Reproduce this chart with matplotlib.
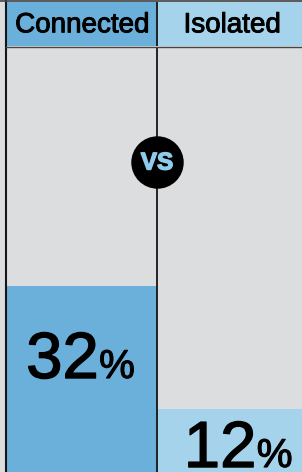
import matplotlib
matplotlib.use("Agg")
import matplotlib.pyplot as plt
import matplotlib.patheffects as pe
from matplotlib.lines import Line2D

# data
groups = ["Connected", "Isolated"]
values = [32, 12]
bar_colors = ["#6ab0db", "#a6d3ec"]

W, H = 302, 472
bg = "#dcdddf"
dark = "#151515"
font = "Liberation Sans"


def thick(color, w):
    # fake a medium weight
    return [pe.withStroke(linewidth=w, foreground=color)]


fig = plt.figure(figsize=(W / 100, H / 100), dpi=100)
fig.patch.set_facecolor(bg)

# main panel (bottom part)
x0, top = 7, 47
ax = fig.add_axes([x0 / W, 0, (W - x0) / W, (H - top) / H])
ax.set_facecolor(bg)
xs = list(range(len(groups)))
ax.bar(xs, values, width=1.0, color=bar_colors, linewidth=0)
ax.set_xlim(-0.5, -0.5 + (W - x0) / 150)
ax.set_ylim(1.76, 70.86)
ax.axis("off")

# divider line
ax.axvline(0.5, color=dark, lw=1.3)

# value labels: big number + smaller percent sign
label_offsets = [-92, -58]  # px below bar top to baseline
for x, v, off in zip(xs, values, label_offsets):
    dx = 12 if v > 20 else 17.5
    ax.annotate(str(v), (x, v), xytext=(dx, off * 0.72),
                textcoords="offset points", ha="right", va="baseline",
                fontsize=47, family=font, color="black",
                path_effects=thick("black", 1.0))
    ax.annotate("%", (x, v), xytext=(dx + 0.3, off * 0.72),
                textcoords="offset points", ha="left", va="baseline",
                fontsize=29, family=font, color="black",
                path_effects=thick("black", 0.8))

# vs badge
ax.scatter([0.5], [0.729], s=1350, color="black", zorder=5,
           transform=ax.get_xaxis_transform(), clip_on=False)
ax.text(0.5, 0.727, "VS", transform=ax.get_xaxis_transform(), ha="center",
        va="center", fontsize=17.5, fontweight="bold", family=font,
        color="#8ecbed", zorder=6, path_effects=thick("#8ecbed", 1.0))

# header band
hax = fig.add_axes([x0 / W, (H - 46) / H, (W - x0) / W, 44 / H])
hax.bar(xs, [1, 1], width=1.0, color=bar_colors, linewidth=0)
hax.set_xlim(ax.get_xlim())
hax.set_ylim(0, 1)
hax.axis("off")
hax.axvline(0.5, color=dark, lw=1.3)
for x, g in zip(xs, groups):
    hax.text(x, 0.47, g, ha="center", va="center", fontsize=20,
             family=font, color="black", path_effects=thick("black", 0.7))

# frame lines
fig.add_artist(Line2D([6 / W, 6 / W], [0, 1], color=dark, lw=1.5))
fig.add_artist(Line2D([0, 1], [1 - 0.8 / H, 1 - 0.8 / H], color="#444444", lw=1.2))
fig.add_artist(Line2D([6 / W, 1], [(H - 46.5) / H, (H - 46.5) / H], color="#444444", lw=1.0))

fig.savefig("out.png", dpi=100, facecolor=bg)
